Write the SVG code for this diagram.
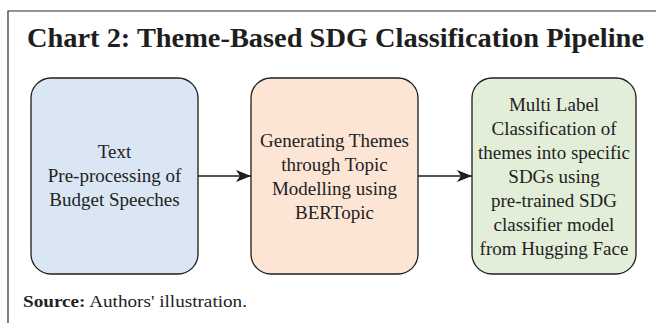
<svg xmlns="http://www.w3.org/2000/svg" width="656" height="323" viewBox="0 0 656 323">
<defs>
<style>
.frame{fill:none;stroke:#2a2a2a;stroke-width:1.2}
.box{stroke:#1e1e1e;stroke-width:1.3}
.t{font-family:"Liberation Serif","Times New Roman",serif;font-size:19px;fill:#222;text-anchor:middle}
.title{font-family:"Liberation Serif","Times New Roman",serif;font-size:27px;font-weight:bold;fill:#1e1e1e}
.src{font-family:"Liberation Serif","Times New Roman",serif;font-size:16px;fill:#222}
.conn{stroke:#1e1e1e;stroke-width:1.3;fill:none}
</style>
<marker id="arr" markerWidth="16" markerHeight="12" refX="15" refY="6" orient="auto" markerUnits="userSpaceOnUse">
<path d="M0,0 L15,6 L0,12 L4,6 Z" fill="#1e1e1e"/>
</marker>
</defs>
<rect width="656" height="323" fill="#ffffff"/>
<path class="frame" d="M656,11 H8 V323"/>
<text class="title" x="27" y="47" textLength="617" lengthAdjust="spacingAndGlyphs">Chart 2: Theme-Based SDG Classification Pipeline</text>
<g id="node1">
<rect class="box" x="31" y="78" width="167" height="196" rx="20" ry="20" fill="#dae6f3"/>
<text class="t" x="114.5" y="158">Text</text>
<text class="t" x="114.5" y="182">Pre-processing of</text>
<text class="t" x="114.5" y="206">Budget Speeches</text>
</g>
<g id="node2">
<rect class="box" x="251" y="78" width="167" height="196" rx="20" ry="20" fill="#fde5d6"/>
<text class="t" x="334.5" y="147">Generating Themes</text>
<text class="t" x="334.5" y="171">through Topic</text>
<text class="t" x="334.5" y="195">Modelling using</text>
<text class="t" x="334.5" y="219">BERTopic</text>
</g>
<g id="node3">
<rect class="box" x="472" y="78" width="164" height="196" rx="20" ry="20" fill="#e3eed9"/>
<text class="t" x="554" y="111">Multi Label</text>
<text class="t" x="554" y="135">Classification of</text>
<text class="t" x="554" y="159">themes into specific</text>
<text class="t" x="554" y="183">SDGs using</text>
<text class="t" x="554" y="207">pre-trained SDG</text>
<text class="t" x="554" y="231">classifier model</text>
<text class="t" x="554" y="255">from Hugging Face</text>
</g>
<g id="connectors">
<line class="conn" x1="198" y1="176" x2="251" y2="176" marker-end="url(#arr)"/>
<line class="conn" x1="418" y1="176" x2="472" y2="176" marker-end="url(#arr)"/>
</g>
<text class="src" x="23" y="307" textLength="224" lengthAdjust="spacingAndGlyphs"><tspan font-weight="bold">Source:</tspan> Authors' illustration.</text>
</svg>
